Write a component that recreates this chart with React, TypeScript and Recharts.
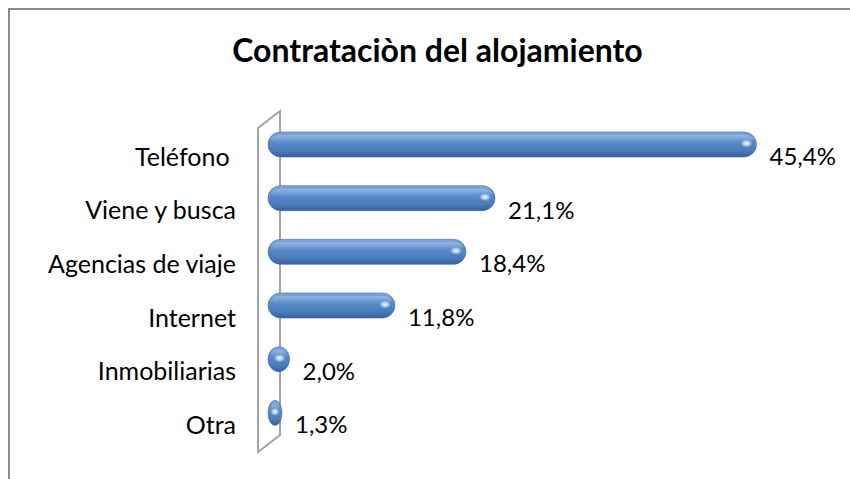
import React from "react";
import { BarChart, Bar, XAxis, YAxis, LabelList } from "recharts";

const categories = ["Teléfono\u00A0", "Viene y busca", "Agencias de viaje", "Internet", "Inmobiliarias", "Otra"];
const shares = [45.4, 21.1, 18.4, 11.8, 2.0, 1.3];
const shareLabels = ["45,4%", "21,1%", "18,4%", "11,8%", "2,0%", "1,3%"];

const data = categories.map((name, i) => ({ name, value: shares[i], label: shareLabels[i] }));

const W = 850;
const H = 479;
const PLOT_LEFT = 258;
const PLOT_TOP = 130;
const PLOT_BOTTOM = 452;
const DEPTH_X = 22;
const DEPTH_Y = 17;
const FONT = "Lato, 'Open Sans', sans-serif";

// 3D-ish capsule bar, pushed back into the middle of the wall depth
function CapsuleBar(props: any) {
  const { x, y, width, height } = props;
  const bx = x + DEPTH_X / 2 - 1;
  const by = y - 12;
  const w = Math.max(width, 12);
  const r = Math.min(w / 2, height / 2);
  const hx = bx + w - Math.min(10, w / 2);
  return (
    <g>
      <rect x={bx} y={by} width={w} height={height} rx={r} ry={height / 2} fill="url(#barGrad)" stroke="#3d6aa3" strokeWidth={0.6} />
      <rect x={bx + 3} y={by + 3} width={Math.max(w - 6, 2)} height={height * 0.35} rx={Math.max(r - 3, 1)} ry={height * 0.17} fill="url(#topShine)" />
      <ellipse cx={hx} cy={by + height / 2 - 1} rx={Math.min(6, w / 3)} ry={4} fill="url(#spec)" />
    </g>
  );
}

function ValueLabel(props: any) {
  const { x, y, width, height, value } = props;
  return (
    <text x={x + width + 23} y={y + height / 2} dy="0.35em" fontFamily={FONT} fontSize={24} fill="#000">
      {value}
    </text>
  );
}

export default function App() {
  const lx = PLOT_LEFT;
  const rx = PLOT_LEFT + DEPTH_X;
  return (
    <div style={{ position: "absolute", left: 0, top: 0, width: W, height: H, background: "#fff", overflow: "hidden" }}>
      <div
        style={{
          position: "absolute",
          left: 8,
          top: 8,
          width: W,
          height: H,
          borderLeft: "2px solid #8a8a8a",
          borderTop: "2px solid #8a8a8a",
        }}
      />
      <div
        style={{
          position: "absolute",
          left: 0,
          width: 875,
          top: 30,
          textAlign: "center",
          fontFamily: FONT,
          fontWeight: 700,
          fontSize: 32,
          lineHeight: "40px",
          color: "#000",
        }}
      >
        Contrataciòn del alojamiento
      </div>
      <svg width={W} height={H} style={{ position: "absolute", left: 0, top: 0 }}>
        <polygon
          points={`${lx},${PLOT_TOP - 2} ${rx},${PLOT_TOP - 2 - DEPTH_Y} ${rx},${PLOT_BOTTOM - DEPTH_Y} ${lx},${PLOT_BOTTOM}`}
          fill="none"
          stroke="#a3a3a3"
          strokeWidth={2}
        />
      </svg>
      <div style={{ position: "absolute", left: 0, top: 0 }}>
        <BarChart
          width={W}
          height={H}
          data={data}
          layout="vertical"
          margin={{ top: PLOT_TOP, right: 54, bottom: H - PLOT_BOTTOM, left: 0 }}
          barCategoryGap={0}
        >
          <defs>
            <linearGradient id="barGrad" x1="0" y1="0" x2="0" y2="1">
              <stop offset="0%" stopColor="#7ea9dd" />
              <stop offset="35%" stopColor="#5b8ccb" />
              <stop offset="75%" stopColor="#4a7bbb" />
              <stop offset="100%" stopColor="#35609a" />
            </linearGradient>
            <linearGradient id="topShine" x1="0" y1="0" x2="0" y2="1">
              <stop offset="0%" stopColor="#ffffff" stopOpacity={0.25} />
              <stop offset="100%" stopColor="#ffffff" stopOpacity={0} />
            </linearGradient>
            <radialGradient id="spec">
              <stop offset="0%" stopColor="#ffffff" stopOpacity={1} />
              <stop offset="60%" stopColor="#d8ecff" stopOpacity={0.6} />
              <stop offset="100%" stopColor="#a8cdf5" stopOpacity={0} />
            </radialGradient>
          </defs>
          <XAxis type="number" domain={[0, 50]} hide />
          <YAxis
            type="category"
            dataKey="name"
            width={PLOT_LEFT}
            axisLine={false}
            tickLine={false}
            tickSize={0}
            tickMargin={22}
            tick={{ fontFamily: FONT, fontSize: 25, fill: "#000" }}
            interval={0}
          />
          <Bar dataKey="value" barSize={25} shape={<CapsuleBar />} isAnimationActive={false}>
            <LabelList dataKey="label" content={<ValueLabel />} />
          </Bar>
        </BarChart>
      </div>
    </div>
  );
}
